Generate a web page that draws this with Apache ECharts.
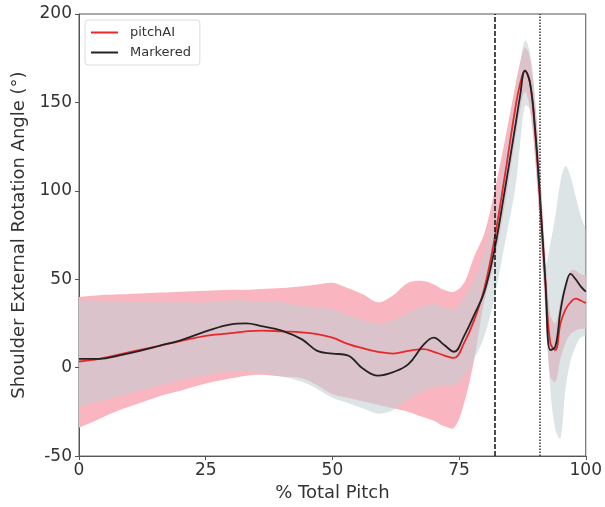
<!DOCTYPE html>
<html>
<head>
<meta charset="utf-8">
<script src="https://cdn.jsdelivr.net/npm/echarts@6/dist/echarts.min.js"></script>
<style>
html,body{margin:0;padding:0;background:#fff;}
#chart{width:605px;height:507px;}
</style>
</head>
<body>
<div id="chart"></div>
<script>
// % of total pitch where each curve is sampled
var pitchPct = [0, 4, 8, 12, 16, 20, 25, 30, 33, 36, 40, 44, 47, 50, 53, 56, 59, 62, 65, 68, 70,
    72, 74, 76, 78, 80, 82, 84, 86, 87, 88, 89, 90, 91, 92, 93, 94, 95, 96, 97, 98, 99, 100];

var pitchAIMean = [3.5, 5, 7.5, 10, 12.5, 15, 18, 19.5, 20.5, 21, 20.5, 20, 19, 17, 13.5, 11, 9, 8, 9.5, 10.5, 9,
    7, 5.5, 14, 27, 45, 73, 108, 145, 160, 168, 161, 133, 93, 50, 14, 10, 25, 33, 37, 39, 38, 36.5];
var pitchAILow = [-34, -29, -24, -20, -16, -13, -9, -6, -4.5, -4, -5, -6, -10, -15, -17, -19, -21, -23, -25, -28, -30,
    -33, -34, -20, 5, 38, 60, 92, 128, 145, 156, 146, 118, 78, 35, -5, -8, 5, 14, 19, 21, 22, 22];
var pitchAIHigh = [40, 41, 41.5, 42, 42.5, 43, 43.5, 44, 44, 44.5, 45, 46, 47, 48, 45, 41.5, 37, 41, 48, 49, 47,
    44, 43, 48, 63, 76, 100, 128, 158, 172, 181, 175, 150, 110, 65, 30, 25, 38, 48, 55, 55, 53, 52];

var markeredMean = [5, 5, 7, 9.5, 12.5, 15.5, 20.5, 24.5, 25, 23.5, 21, 16, 9.5, 8, 7, -0.5, -4.5, -2.5, 2, 13, 17,
    13, 9, 18, 30, 43, 67, 100, 135, 153, 168, 161, 135, 95, 50, 10, 12, 32, 46, 53, 50, 46, 43];
var markeredLow = [-22, -19, -16, -13, -10, -7, -4, -2, -2, -3, -5, -8, -12, -17, -20, -23, -26, -24, -18, -13, -11,
    -10, -10, -5, 5, 18, 40, 70, 100, 125, 148, 146, 120, 80, 35, -12, -35, -40, -12, 4, 12, 17, 18];
var markeredHigh = [38, 38, 37.5, 37, 37, 37, 37, 38, 38, 37.5, 37, 35, 34, 33, 30, 27, 25, 27, 31, 35, 36,
    34, 33, 40, 50, 65, 88, 120, 152, 170, 185, 178, 152, 112, 58, 70, 86, 105, 114, 108, 97, 86, 78];

var phaseLines = [82, 91]; // dashed, dotted
var xTicks = [0, 25, 50, 75, 100];
var yTicks = [-50, 0, 50, 100, 150, 200];

function pairs(ys){
    return pitchPct.map(function(x, i){ return [x, ys[i]]; });
}

// one closed polygon: upper edge left->right, lower edge right->left
// end points doubled so the smoothing keeps square ends
function bandSeries(name, lo, hi, fill){
    return {
        name: name, type: 'custom', silent: true, clip: true,
        data: pitchPct.map(function(x, i){ return [x, lo[i], hi[i]]; }),
        encode: {x: 0, y: [1, 2]},
        renderItem: function(params, api){
            if (params.dataIndex !== 0) return null;
            var n = pitchPct.length;
            var pts = [api.coord([pitchPct[0], hi[0]])];
            pitchPct.forEach(function(x, i){ pts.push(api.coord([x, hi[i]])); });
            pts.push(api.coord([pitchPct[n - 1], hi[n - 1]]));
            pts.push(api.coord([pitchPct[n - 1], lo[n - 1]]));
            for (var i = n - 1; i >= 0; i--) pts.push(api.coord([pitchPct[i], lo[i]]));
            pts.push(api.coord([pitchPct[0], lo[0]]));
            return {
                type: 'polygon',
                shape: {points: pts, smooth: 0.35},
                style: {fill: fill}
            };
        }
    };
}

var textColor = '#333';
var font = 'DejaVu Sans';

var myChart = echarts.init(document.getElementById('chart'));
myChart.setOption({
    animation: false,
    grid: {
        left: 79, right: 15, top: 14, bottom: 49,
        show: true, borderColor: '#555', borderWidth: 1
    },
    legend: {
        data: [{name: 'pitchAI', icon: 'rect'}, {name: 'Markered', icon: 'rect'}],
        orient: 'vertical',
        left: 85, top: 20,
        itemWidth: 27, itemHeight: 2,
        itemGap: 7,
        padding: [6, 9, 6, 6],
        borderColor: '#ddd', borderWidth: 1, borderRadius: 3,
        textStyle: {fontFamily: font, fontSize: 13, color: textColor, padding: [0, 0, 0, 7]}
    },
    xAxis: {
        type: 'value',
        min: xTicks[0], max: xTicks[xTicks.length - 1], interval: xTicks[1] - xTicks[0],
        name: '% Total Pitch',
        nameLocation: 'middle', nameGap: 26,
        nameTextStyle: {fontFamily: font, fontSize: 18, color: textColor},
        axisLine: {onZero: false, lineStyle: {color: '#555'}},
        axisTick: {length: 4, lineStyle: {color: '#555'}},
        axisLabel: {fontFamily: font, fontSize: 17, color: textColor, margin: 6},
        splitLine: {show: false}
    },
    yAxis: {
        type: 'value',
        min: yTicks[0], max: yTicks[yTicks.length - 1], interval: yTicks[1] - yTicks[0],
        name: 'Shoulder External Rotation Angle (°)',
        nameLocation: 'middle', nameGap: 48,
        nameTextStyle: {fontFamily: font, fontSize: 18, color: textColor},
        axisLine: {show: true, onZero: false, lineStyle: {color: '#555'}},
        axisTick: {show: true, length: 4, lineStyle: {color: '#555'}},
        axisLabel: {fontFamily: font, fontSize: 17, color: textColor, margin: 7},
        splitLine: {show: false}
    },
    series: [
        bandSeries('aiBand', pitchAILow, pitchAIHigh, 'rgb(250,182,192)'),
        bandSeries('mkBand', markeredLow, markeredHigh, 'rgba(191,206,210,0.55)'),
        {
            name: 'pitchAI', type: 'line', data: pairs(pitchAIMean), smooth: 0.4, showSymbol: false,
            itemStyle: {color: '#e8282b'}, lineStyle: {color: '#e8282b', width: 1.8}
        },
        {
            name: 'Markered', type: 'line', data: pairs(markeredMean), smooth: 0.4, showSymbol: false,
            itemStyle: {color: '#222'}, lineStyle: {color: '#222', width: 1.8},
            markLine: {
                silent: true, symbol: 'none', label: {show: false},
                data: [
                    {xAxis: phaseLines[0], lineStyle: {type: [5, 2], color: '#111', width: 1.5}},
                    {xAxis: phaseLines[1], lineStyle: {type: [1.5, 1.5], color: '#333', width: 1.5}}
                ]
            }
        }
    ]
});
</script>
</body>
</html>
